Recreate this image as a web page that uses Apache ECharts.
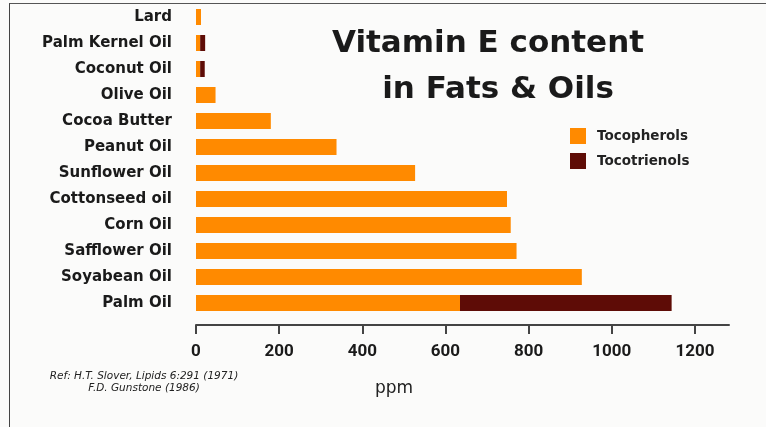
<!DOCTYPE html>
<html>
<head>
<meta charset="utf-8">
<script src="https://cdn.jsdelivr.net/npm/echarts@6/dist/echarts.min.js"></script>
<style>
  html, body { margin: 0; padding: 0; background: #fbfbfa; }
  #wrap { position: relative; width: 766px; height: 427px; }
  #chart { width: 766px; height: 427px; }
  #frame {
    position: absolute; left: 9px; top: 3px; right: 0; bottom: 0;
    border-left: 1.5px solid #444; border-top: 1.5px solid #555;
    pointer-events: none;
  }
</style>
</head>
<body>
<div id="wrap">
  <div id="chart"></div>
  <div id="frame"></div>
</div>
<script>
// oils, top to bottom
var oils = ["Lard", "Palm Kernel Oil", "Coconut Oil", "Olive Oil", "Cocoa Butter", "Peanut Oil",
  "Sunflower Oil", "Cottonseed oil", "Corn Oil", "Safflower Oil", "Soyabean Oil", "Palm Oil"];
// ppm
var tocopherols = [12, 10, 10, 47, 180, 338, 527, 748, 757, 771, 928, 635];
var tocotrienols = [0, 12, 11, 0, 0, 0, 0, 0, 0, 0, 0, 509];
var ppmTicks = [0, 200, 400, 600, 800, 1000, 1200];

var chart = echarts.init(document.getElementById("chart"));

var titleFont = { fontFamily: "DejaVu Sans", fontWeight: "bold", fontSize: 31, color: "#1a1a1a" };

var option = {
  backgroundColor: "#fbfbfa",
  animation: false,
  title: [
    { text: "Vitamin E content", left: 483, top: 23, textAlign: "center", textStyle: titleFont },
    { text: "in Fats & Oils", left: 493, top: 69, textAlign: "center", textStyle: titleFont },
    {
      text: "ppm",
      left: 389, top: 375, textAlign: "center",
      textStyle: { fontFamily: "DejaVu Sans", fontWeight: "normal", fontSize: 17, color: "#222" }
    },
    {
      text: "Ref: H.T. Slover, Lipids 6:291 (1971)\nF.D. Gunstone (1986)",
      left: 139, top: 365, textAlign: "center",
      textStyle: { fontFamily: "DejaVu Sans", fontStyle: "italic", fontSize: 10.5, lineHeight: 12, color: "#222", fontWeight: "normal" }
    }
  ],
  legend: {
    orient: "vertical",
    left: 565, top: 123,
    itemWidth: 16, itemHeight: 16, itemGap: 9,
    icon: "rect",
    textStyle: { fontFamily: "DejaVu Sans", fontWeight: "bold", fontSize: 13.5, color: "#222", padding: [0, 0, 0, 6] },
    data: ["Tocopherols", "Tocotrienols"]
  },
  grid: { left: 196, right: 37, top: 4, height: 312 },
  xAxis: {
    type: "value",
    min: 0, max: 1282,
    offset: 9,
    splitLine: { show: false },
    axisLine: { show: true, lineStyle: { color: "#444", width: 2 } },
    axisTick: { show: true, customValues: ppmTicks, length: 9, lineStyle: { color: "#444", width: 2 } },
    axisLabel: {
      customValues: ppmTicks, margin: 18,
      formatter: function (v) { return String(v); },
      fontFamily: "Roboto", fontWeight: "bold", fontSize: 17, color: "#1a1a1a"
    }
  },
  yAxis: {
    type: "category",
    inverse: true,
    data: oils,
    axisLine: { show: false },
    axisTick: { show: false },
    axisLabel: {
      margin: 24, padding: [5, 0, 0, 0],
      fontFamily: "DejaVu Sans", fontWeight: "bold", fontSize: 15, color: "#1a1a1a"
    }
  },
  series: [
    {
      name: "Tocopherols", type: "bar", stack: "e",
      barWidth: 16,
      itemStyle: { color: "#ff8a00" },
      data: tocopherols
    },
    {
      name: "Tocotrienols", type: "bar", stack: "e",
      barWidth: 16,
      itemStyle: { color: "#5e0c06" },
      data: tocotrienols
    }
  ]
};

chart.setOption(option);
</script>
</body>
</html>
